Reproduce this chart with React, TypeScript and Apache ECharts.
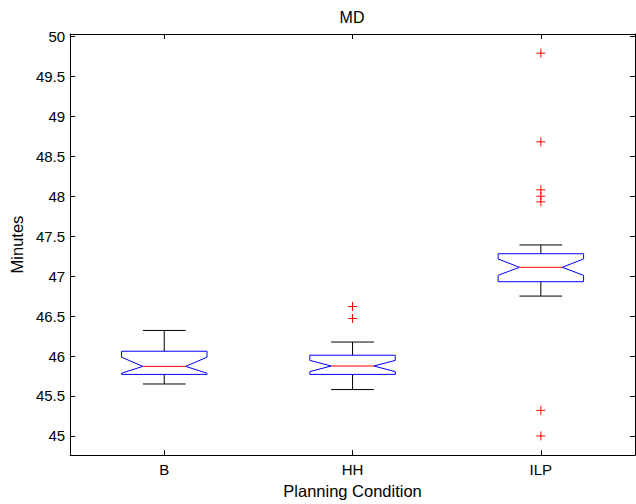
import React, { useEffect, useRef } from "react";
import * as echarts from "echarts";

const categories = ["B", "HH", "ILP"];
const lowerWhisker = [45.65, 45.58, 46.75];
const q1 = [45.77, 45.77, 46.93];
const notchLow = [45.785, 45.805, 47.01];
const medians = [45.87, 45.875, 47.11];
const notchHigh = [45.985, 45.945, 47.215];
const q3 = [46.06, 46.01, 47.28];
const upperWhisker = [46.32, 46.175, 47.39];
const outliersB: number[] = [];
const outliersHH = [46.62, 46.47];
const outliersILP = [49.79, 48.68, 48.08, 48.0, 47.93, 45.32, 45.0];
const yTicks = [45, 45.5, 46, 46.5, 47, 47.5, 48, 48.5, 49, 49.5, 50];

const FONT = "'Liberation Sans', Arial, Helvetica, sans-serif";

export default function App() {
  const ref = useRef<HTMLDivElement>(null);
  useEffect(() => {
    if (!ref.current) return;
    const chart = echarts.init(ref.current, null, { renderer: "svg" });

    const boxData = categories.map((_, i) => [
      i,
      lowerWhisker[i],
      q1[i],
      notchLow[i],
      medians[i],
      notchHigh[i],
      q3[i],
      upperWhisker[i],
    ]);
    const outlierData: number[][] = [];
    [outliersB, outliersHH, outliersILP].forEach((arr, i) =>
      arr.forEach((v) => outlierData.push([i, v]))
    );

    const lineStyleBlack = { stroke: "#000", lineWidth: 1 };

    const yAxisCommon = {
      type: "value" as const,
      min: 44.76,
      max: 50.03,
      splitLine: { show: false },
      axisLine: { show: true, lineStyle: { color: "#000", width: 1 } },
      axisTick: {
        show: true,
        inside: true,
        length: 5,
        customValues: yTicks,
        lineStyle: { color: "#000" },
      },
    };

    chart.setOption({
      animation: false,
      backgroundColor: "#fff",
      grid: { left: 70, right: 1, top: 34, bottom: 39 },
      graphic: [
        {
          type: "text",
          x: 352,
          y: 9,
          style: {
            text: "MD",
            align: "center",
            fontSize: 16,
            fontFamily: FONT,
            fill: "#000",
          },
        },
      ],
      xAxis: [
        {
          type: "category",
          data: categories,
          position: "bottom",
          name: "Planning Condition",
          nameLocation: "middle",
          nameGap: 19,
          nameTextStyle: { fontSize: 16.5, fontFamily: FONT, color: "#000" },
          axisLine: { show: true, lineStyle: { color: "#000", width: 1 } },
          axisTick: {
            show: true,
            inside: true,
            length: 5,
            alignWithLabel: true,
            lineStyle: { color: "#000" },
          },
          axisLabel: {
            fontSize: 15,
            fontFamily: FONT,
            color: "#000",
            margin: 7,
          },
          splitLine: { show: false },
        },
        {
          type: "category",
          data: categories,
          position: "top",
          axisLine: { show: true, lineStyle: { color: "#000", width: 1 } },
          axisTick: {
            show: true,
            inside: true,
            length: 5,
            alignWithLabel: true,
            lineStyle: { color: "#000" },
          },
          axisLabel: { show: false },
          splitLine: { show: false },
        },
      ],
      yAxis: [
        {
          ...yAxisCommon,
          position: "left",
          name: "Minutes",
          nameLocation: "middle",
          nameGap: 44,
          nameRotate: 90,
          nameTextStyle: { fontSize: 16.5, fontFamily: FONT, color: "#000" },
          axisLabel: {
            show: true,
            customValues: yTicks,
            fontSize: 15,
            fontFamily: FONT,
            color: "#000",
            margin: 5,
          },
        },
        {
          ...yAxisCommon,
          position: "right",
          axisLabel: { show: false },
        },
      ],
      series: [
        {
          type: "custom",
          xAxisIndex: 0,
          yAxisIndex: 0,
          data: boxData,
          encode: { x: 0, y: [1, 2, 3, 4, 5, 6, 7] },
          renderItem: (params: any, api: any) => {
            const i = api.value(0);
            const lw = api.value(1);
            const bq1 = api.value(2);
            const nlo = api.value(3);
            const med = api.value(4);
            const nhi = api.value(5);
            const bq3 = api.value(6);
            const uw = api.value(7);
            const cx = api.coord([i, med])[0];
            const band = api.size([1, 0])[0];
            const hw = band * 0.227;
            const nw = hw / 2;
            const cw = hw / 2;
            const y = (v: number) => api.coord([i, v])[1];
            return {
              type: "group",
              children: [
                {
                  type: "line",
                  shape: { x1: cx, y1: y(bq3), x2: cx, y2: y(uw) },
                  style: lineStyleBlack,
                },
                {
                  type: "line",
                  shape: { x1: cx - cw, y1: y(uw), x2: cx + cw, y2: y(uw) },
                  style: lineStyleBlack,
                },
                {
                  type: "line",
                  shape: { x1: cx, y1: y(bq1), x2: cx, y2: y(lw) },
                  style: lineStyleBlack,
                },
                {
                  type: "line",
                  shape: { x1: cx - cw, y1: y(lw), x2: cx + cw, y2: y(lw) },
                  style: lineStyleBlack,
                },
                {
                  type: "polygon",
                  shape: {
                    points: [
                      [cx - hw, y(bq3)],
                      [cx + hw, y(bq3)],
                      [cx + hw, y(nhi)],
                      [cx + nw, y(med)],
                      [cx + hw, y(nlo)],
                      [cx + hw, y(bq1)],
                      [cx - hw, y(bq1)],
                      [cx - hw, y(nlo)],
                      [cx - nw, y(med)],
                      [cx - hw, y(nhi)],
                    ],
                  },
                  style: { fill: "none", stroke: "#0000ff", lineWidth: 1 },
                },
                {
                  type: "line",
                  shape: { x1: cx - nw, y1: y(med), x2: cx + nw, y2: y(med) },
                  style: { stroke: "#ff0000", lineWidth: 1 },
                },
              ],
            };
          },
        },
        {
          type: "custom",
          xAxisIndex: 0,
          yAxisIndex: 0,
          data: outlierData,
          encode: { x: 0, y: 1 },
          renderItem: (params: any, api: any) => {
            const p = api.coord([api.value(0), api.value(1)]);
            const s = 4.5;
            return {
              type: "group",
              children: [
                {
                  type: "line",
                  shape: { x1: p[0] - s, y1: p[1], x2: p[0] + s, y2: p[1] },
                  style: { stroke: "#ff0000", lineWidth: 1 },
                },
                {
                  type: "line",
                  shape: { x1: p[0], y1: p[1] - s, x2: p[0], y2: p[1] + s },
                  style: { stroke: "#ff0000", lineWidth: 1 },
                },
              ],
            };
          },
        },
      ],
    });
    return () => chart.dispose();
  }, []);
  return (
    <div
      ref={ref}
      style={{ position: "fixed", left: 0, top: 0, width: 636, height: 504 }}
    />
  );
}
